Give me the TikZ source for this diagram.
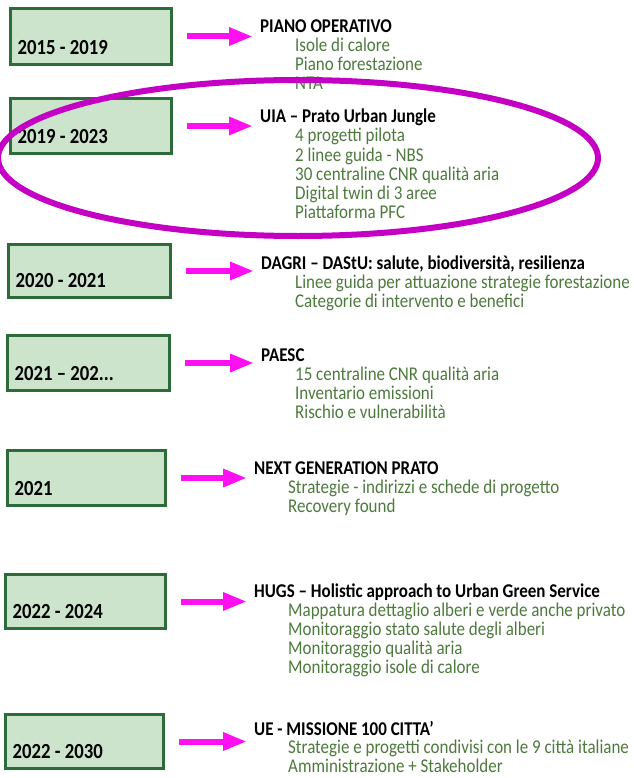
\documentclass[tikz,border=0pt]{standalone}
\usepackage{fontspec}
\setmainfont{Carlito}[FakeStretch=0.87]
\usetikzlibrary{arrows.meta}
\usetikzlibrary{positioning}
\definecolor{boxfill}{HTML}{CCE4CC}
\definecolor{boxline}{HTML}{2E6B3A}
\definecolor{itemgreen}{HTML}{4C7A3C}
\definecolor{arrowpink}{HTML}{FF10F0}
\definecolor{ringpurple}{HTML}{C400C4}
\tikzset{>=latex}
\tikzset{
  yearbox/.style={draw=boxline,fill=boxfill,line width=3pt,inner sep=0pt},
  yearlabel/.style={anchor=base west,inner sep=0pt,
    font=\fontsize{21.5}{22}\selectfont\bfseries},
  title/.style={anchor=base west,inner sep=0pt,
    font=\fontsize{19.5}{20}\selectfont\bfseries},
  item/.style={anchor=base west,inner sep=0pt,text=itemgreen,
    font=\fontsize{19.5}{20}\selectfont},
  pinkarrow/.style={draw=arrowpink,line width=6pt,
    -{Triangle[length=24pt,width=17pt]},shorten <=14pt,shorten >=7pt}
}

\begin{document}
\begin{tikzpicture}[x=1pt,y=-1pt]
    \useasboundingbox (0,0) rectangle (633,778);

    % 2015 - 2019
    \node [yearbox,minimum width=161pt,minimum height=56pt] (b1) at (91,36.5) {};
    \node [yearlabel] (l1) at ([shift={(8.5pt,11.5pt)}]b1.south west) {2015 - 2019};
    \node [title] (t1) at (260,33) {PIANO OPERATIVO};
    \foreach \txt [count=\k] in {Isole di calore,Piano forestazione,NTA}
      \node [item] (i1-\k) at (295,{33+19*\k}) {\txt};
    \draw [pinkarrow] (b1.east) -- (b1.east -| t1.west);

    % 2019 - 2023
    \node [yearbox,minimum width=161pt,minimum height=55pt] (b2) at (91,126) {};
    \node [yearlabel] (l2) at ([shift={(8.5pt,11.5pt)}]b2.south west) {2019 - 2023};
    \node [title] (t2) at (260,123) {UIA – Prato Urban Jungle};
    \foreach \txt [count=\k] in {4 progetti pilota,2 linee guida - NBS,
      30 centraline CNR qualità aria,Digital twin di 3 aree,Piattaforma PFC}
      \node [item] (i2-\k) at (295,{123+19*\k}) {\txt};
    \draw [pinkarrow] (b2.east) -- (b2.east -| t2.west);

    % 2020 - 2021
    \node [yearbox,minimum width=162pt,minimum height=53pt] (b3) at (89.5,271) {};
    \node [yearlabel] (l3) at ([shift={(8.5pt,11.5pt)}]b3.south west) {2020 - 2021};
    \node [title] (t3) at (261,269) {DAGRI – DAStU: salute, biodiversità, resilienza};
    \foreach \txt [count=\k] in {Linee guida per attuazione strategie forestazione,
      Categorie di intervento e benefici}
      \node [item] (i3-\k) at (295,{269+19*\k}) {\txt};
    \draw [pinkarrow] (b3.east) -- (b3.east -| t3.west);

    % 2021 - 202...
    \node [yearbox,minimum width=162pt,minimum height=55pt] (b4) at (88.5,363) {};
    \node [yearlabel] (l4) at ([shift={(8.5pt,11.5pt)}]b4.south west) {2021 – 202...};
    \node [title] (t4) at (261,361) {PAESC};
    \foreach \txt [count=\k] in {15 centraline CNR qualità aria,
      Inventario emissioni,Rischio e vulnerabilità}
      \node [item] (i4-\k) at (295,{361+19*\k}) {\txt};
    \draw [pinkarrow] (b4.east) -- (b4.east -| t4.west);

    % 2021
    \node [yearbox,minimum width=158pt,minimum height=55pt] (b5) at (86.5,478) {};
    \node [yearlabel] (l5) at ([shift={(8.5pt,11.5pt)}]b5.south west) {2021};
    \node [title] (t5) at (254,474) {NEXT GENERATION PRATO};
    \foreach \txt [count=\k] in {Strategie - indirizzi e schede di progetto,
      Recovery found}
      \node [item] (i5-\k) at (288,{474+19*\k}) {\txt};
    \draw [pinkarrow] (b5.east) -- (b5.east -| t5.west);

    % 2022 - 2024
    \node [yearbox,minimum width=160pt,minimum height=54pt] (b6) at (85.5,601.5) {};
    \node [yearlabel] (l6) at ([shift={(8.5pt,11.5pt)}]b6.south west) {2022 - 2024};
    \node [title] (t6) at (254,597) {HUGS – Holistic approach to Urban Green Service};
    \foreach \txt [count=\k] in {Mappatura dettaglio alberi e verde anche privato,
      Monitoraggio stato salute degli alberi,Monitoraggio qualità aria,
      Monitoraggio isole di calore}
      \node [item] (i6-\k) at (288,{597+19*\k}) {\txt};
    \draw [pinkarrow] (b6.east) -- (b6.east -| t6.west);

    % 2022 - 2030
    \node [yearbox,minimum width=158pt,minimum height=54pt] (b7) at (84.5,741.5) {};
    \node [yearlabel] (l7) at ([shift={(8.5pt,11.5pt)}]b7.south west) {2022 - 2030};
    \node [title] (t7) at (254,735) {UE - MISSIONE 100 CITTA’};
    \foreach \txt [count=\k] in {Strategie e progetti condivisi con le 9 città italiane,
      Amministrazione + Stakeholder}
      \node [item] (i7-\k) at (288,{735+18.5*\k}) {\txt};
    \draw [pinkarrow] (b7.east) -- (b7.east -| t7.west);

    % highlight
    \draw [ringpurple,line width=6pt] (298,158) ellipse [x radius=300,y radius=78];
\end{tikzpicture}
\end{document}
